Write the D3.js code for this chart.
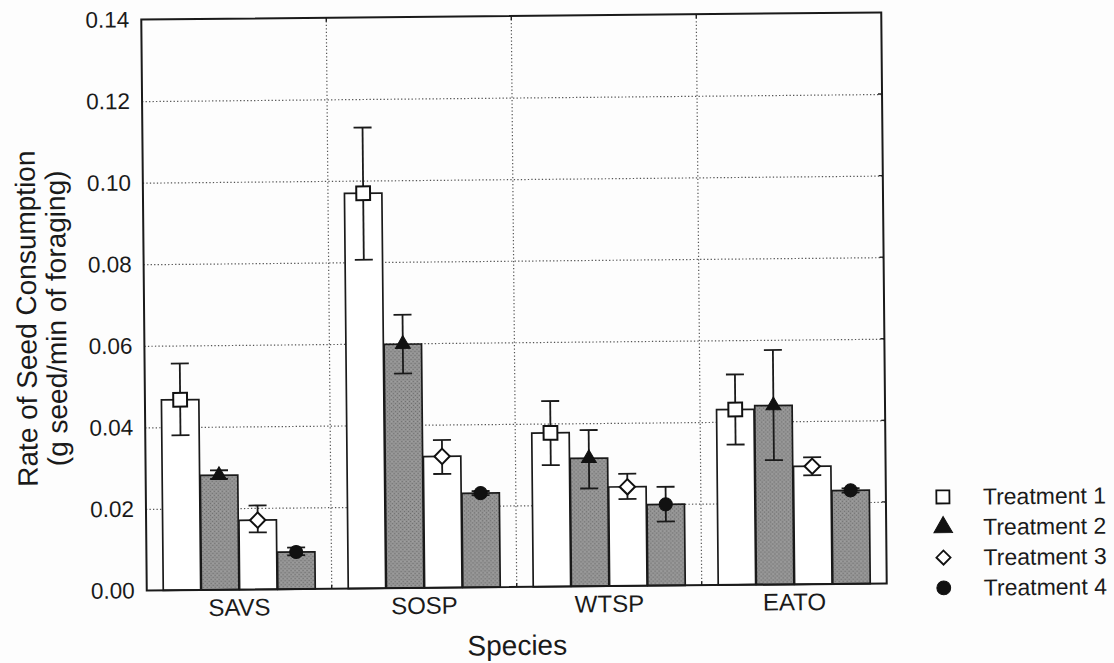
<!DOCTYPE html>
<html>
<head>
<meta charset="utf-8">
<script src="https://cdn.jsdelivr.net/npm/d3@7"></script>
<style>
  html, body { margin: 0; padding: 0; background: #fdfdfd; }
  svg { display: block; }
</style>
</head>
<body>
<svg id="chart" width="1114" height="663"></svg>
<script>
// ---------------- data ----------------
const species = ["SAVS", "SOSP", "WTSP", "EATO"];
const treatments = ["Treatment 1", "Treatment 2", "Treatment 3", "Treatment 4"];
const yTicks = [0.00, 0.02, 0.04, 0.06, 0.08, 0.10, 0.12, 0.14];

const t1Mean = [0.0467, 0.0969, 0.0377, 0.0430];
const t1Low  = [0.0380, 0.0806, 0.0298, 0.0344];
const t1High = [0.0556, 0.1130, 0.0455, 0.0516];

const t2Mean = [0.0281, 0.0598, 0.0314, 0.0439];
const t2Low  = [0.0272, 0.0526, 0.0240, 0.0305];
const t2High = [0.0293, 0.0670, 0.0383, 0.0575];

const t3Mean = [0.0170, 0.0322, 0.0243, 0.0289];
const t3Low  = [0.0140, 0.0279, 0.0213, 0.0267];
const t3High = [0.0206, 0.0362, 0.0275, 0.0311];

const t4Mean = [0.0091, 0.0231, 0.0199, 0.0229];
const t4Low  = [0.0083, 0.0226, 0.0157, 0.0224];
const t4High = [0.0102, 0.0236, 0.0242, 0.0234];

const yTitle1 = "Rate of Seed Consumption";
const yTitle2 = "(g seed/min of foraging)";
const xTitle = "Species";

(function () {
// -------------- build table -------------
const means = [t1Mean, t2Mean, t3Mean, t4Mean];
const lows = [t1Low, t2Low, t3Low, t4Low];
const highs = [t1High, t2High, t3High, t4High];
const rows = [];
treatments.forEach((t, i) => species.forEach((s, j) => rows.push({
  t, s, ti: i, v: means[i][j], lo: lows[i][j], hi: highs[i][j]
})));

// -------------- drawing ----------------
const FONT = "'Liberation Sans', Arial, Helvetica, sans-serif";
const svg = d3.select("#chart");
const defs = svg.append("defs");

const pat = defs.append("pattern").attr("id", "gray").attr("patternUnits", "userSpaceOnUse")
  .attr("width", 4).attr("height", 4);
pat.append("rect").attr("width", 4).attr("height", 4).attr("fill", "#939393");
pat.append("rect").attr("x", 0).attr("y", 0).attr("width", 1).attr("height", 1).attr("fill", "#6e6e6e");
pat.append("rect").attr("x", 2).attr("y", 2).attr("width", 1).attr("height", 1).attr("fill", "#6e6e6e");
pat.append("rect").attr("x", 2).attr("y", 0).attr("width", 1).attr("height", 1).attr("fill", "#a4a4a4");

svg.append("rect").attr("width", 1114).attr("height", 663).attr("fill", "#fdfdfd");

const g = svg.append("g").attr("transform", "rotate(-0.55,514,301.5)");

const pLeft = 144, pRight = 884, pTop = 16, pBottom = 587;
const x0 = d3.scaleBand().domain(species).range([pLeft, pRight]);
const x1 = d3.scaleBand().domain(treatments).range([16.5, 168.5]).paddingInner(0.02);
const y = d3.scaleLinear().domain([0, 0.14]).range([pBottom, pTop]);

// horizontal grid
const gridY = g.append("g").attr("transform", `translate(${pLeft},0)`)
  .call(d3.axisLeft(y).tickValues(yTicks.slice(1, -1)).tickSize(-(pRight - pLeft)).tickFormat(""));
gridY.select(".domain").remove();
gridY.selectAll("line").attr("stroke", "#555").attr("stroke-width", 1.2)
  .attr("stroke-dasharray", "1.3,2.2");

// vertical grid at species boundaries
const bounds = species.slice(1).map(s => x0(s));
g.append("g").selectAll("line").data(bounds).join("line")
  .attr("x1", d => d).attr("x2", d => d).attr("y1", pTop).attr("y2", pBottom)
  .attr("stroke", "#555").attr("stroke-width", 1.2).attr("stroke-dasharray", "1.3,2.2");

// small inner ticks
g.append("g").selectAll("line").data(bounds).join("line")
  .attr("x1", d => d).attr("x2", d => d).attr("y1", pTop).attr("y2", pTop + 4)
  .attr("stroke", "#222").attr("stroke-width", 1.4);
g.append("g").selectAll("line").data(bounds).join("line")
  .attr("x1", d => d).attr("x2", d => d).attr("y1", pBottom).attr("y2", pBottom - 4)
  .attr("stroke", "#222").attr("stroke-width", 1.4);
g.append("g").selectAll("line").data(yTicks.slice(1, -1)).join("line")
  .attr("x1", pRight).attr("x2", pRight - 4).attr("y1", d => y(d)).attr("y2", d => y(d))
  .attr("stroke", "#222").attr("stroke-width", 1.4);

// bars
g.append("g").selectAll("rect").data(rows).join("rect")
  .attr("x", d => x0(d.s) + x1(d.t))
  .attr("y", d => y(d.v))
  .attr("width", x1.bandwidth())
  .attr("height", d => y(0) - y(d.v))
  .attr("fill", d => (d.ti % 2 === 1) ? "url(#gray)" : "#ffffff")
  .attr("stroke", "#1a1a1a").attr("stroke-width", 1.7);

// error bars
const cx = d => x0(d.s) + x1(d.t) + x1.bandwidth() / 2;
const eb = g.append("g").attr("stroke", "#1a1a1a").attr("stroke-width", 1.8);
eb.selectAll("line.v").data(rows).join("line").attr("class", "v")
  .attr("x1", cx).attr("x2", cx).attr("y1", d => y(d.lo)).attr("y2", d => y(d.hi));
eb.selectAll("line.h").data(rows).join("line").attr("class", "h")
  .attr("x1", d => cx(d) - 9).attr("x2", d => cx(d) + 9).attr("y1", d => y(d.hi)).attr("y2", d => y(d.hi));
eb.selectAll("line.l").data(rows).join("line").attr("class", "l")
  .attr("x1", d => cx(d) - 9).attr("x2", d => cx(d) + 9).attr("y1", d => y(d.lo)).attr("y2", d => y(d.lo));

// markers
const markerDefs = [
  { type: d3.symbolSquare, size: 190, fill: "#ffffff", rot: 0 },
  { type: d3.symbolTriangle, size: 95, fill: "#111111", rot: 0 },
  { type: d3.symbolSquare, size: 118, fill: "#ffffff", rot: 45 },
  { type: d3.symbolCircle, size: 135, fill: "#111111", rot: 0 }
];
function drawMarker(sel, ti) {
  const m = markerDefs[ti];
  sel.attr("d", d3.symbol().type(m.type).size(m.size)())
    .attr("fill", m.fill).attr("stroke", "#111").attr("stroke-width", ti % 2 === 0 ? 2 : 1);
}
g.append("g").selectAll("path").data(rows).join("path")
  .each(function (d) { drawMarker(d3.select(this), d.ti); })
  .attr("transform", d => `translate(${cx(d)},${y(d.v)}) rotate(${markerDefs[d.ti].rot})`);

// frame
g.append("rect").attr("x", pLeft).attr("y", pTop).attr("width", pRight - pLeft).attr("height", pBottom - pTop)
  .attr("fill", "none").attr("stroke", "#1a1a1a").attr("stroke-width", 2);

// y axis labels
const yAxis = g.append("g").attr("transform", `translate(${pLeft},0)`)
  .call(d3.axisLeft(y).tickValues(yTicks).tickFormat(d3.format(".2f")).tickSize(0).tickPadding(12));
yAxis.select(".domain").remove();
yAxis.selectAll("text").attr("font-family", FONT).attr("font-size", 22.5).attr("fill", "#1a1a1a");

// x axis labels
const xAxis = g.append("g").attr("transform", `translate(0,${pBottom})`)
  .call(d3.axisBottom(x0).tickSize(0).tickPadding(8));
xAxis.select(".domain").remove();
xAxis.selectAll("text").attr("font-family", FONT).attr("font-size", 24).attr("fill", "#1a1a1a")
  .attr("dy", null).attr("y", 26);

// titles
g.append("text").attr("x", (pLeft + pRight) / 2).attr("y", 655).attr("text-anchor", "middle")
  .attr("font-family", FONT).attr("font-size", 28).attr("fill", "#1a1a1a").text(xTitle);
g.append("text").attr("transform", "translate(36,314) rotate(-90)").attr("text-anchor", "middle")
  .attr("font-family", FONT).attr("font-size", 28).attr("fill", "#1a1a1a").text(yTitle1);
g.append("text").attr("transform", "translate(66,314) rotate(-90)").attr("text-anchor", "middle")
  .attr("font-family", FONT).attr("font-size", 28).attr("fill", "#1a1a1a").text(yTitle2);

// legend
const legY = d3.scalePoint().domain(treatments).range([501, 592]);
const leg = g.append("g");
leg.selectAll("path").data(treatments).join("path")
  .each(function (d, i) {
    const m = markerDefs[i];
    const size = [170, 150, 100, 150][i];
    d3.select(this).attr("d", d3.symbol().type(m.type).size(size)())
      .attr("fill", m.fill).attr("stroke", "#111").attr("stroke-width", i % 2 === 0 ? 1.8 : 1)
      .attr("transform", `translate(941,${legY(d)}) rotate(${m.rot})`);
  });
leg.selectAll("text").data(treatments).join("text")
  .attr("x", 981).attr("y", d => legY(d) + 8)
  .attr("font-family", FONT).attr("font-size", 23).attr("fill", "#1a1a1a").text(d => d);
})();
</script>
</body>
</html>
